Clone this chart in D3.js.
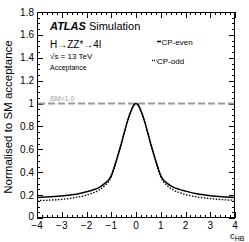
<!DOCTYPE html>
<html><head><meta charset="utf-8">
<script src="https://cdn.jsdelivr.net/npm/d3@7"></script>
<style>html,body{margin:0;padding:0;background:#fff}svg{display:block;font-family:"Liberation Sans",Arial,sans-serif}</style>
</head><body>
<script>
const xCp = [-4,-3.5,-3,-2.5,-2,-1.75,-1.5,-1.25,-1.1,-1,-0.9,-0.8,-0.7,-0.6,-0.5,-0.4,-0.3,-0.2,-0.1,0,0.1,0.2,0.3,0.4,0.5,0.6,0.7,0.8,0.9,1,1.1,1.25,1.5,1.75,2,2.5,3,3.5,4];
const cpEven = [0.18,0.185,0.192,0.205,0.23,0.245,0.265,0.305,0.335,0.37,0.43,0.5,0.57,0.645,0.725,0.805,0.875,0.935,0.983,1.0,0.983,0.935,0.875,0.805,0.725,0.645,0.57,0.5,0.43,0.37,0.335,0.305,0.27,0.25,0.235,0.21,0.195,0.186,0.18];
const cpOdd = [0.152,0.156,0.163,0.177,0.2,0.218,0.242,0.285,0.32,0.358,0.42,0.493,0.565,0.642,0.723,0.804,0.874,0.935,0.983,1.0,0.983,0.935,0.874,0.804,0.723,0.642,0.565,0.493,0.42,0.358,0.32,0.285,0.245,0.222,0.205,0.183,0.17,0.16,0.155];
const yTicks = [0,0.2,0.4,0.6,0.8,1,1.2,1.4,1.6,1.8];
const xTicks = [-4,-3,-2,-1,0,1,2,3,4];
const smValue = 1.0;

const W=249,H=242;
const m={l:37,r:14,t:12,b:24};
const svg=d3.select("body").append("svg").attr("width",W).attr("height",H);
const x=d3.scaleLinear().domain([-4,4]).range([m.l,W-m.r]);
const y=d3.scaleLinear().domain([0,1.8]).range([H-m.b,m.t]);
const x0=m.l,x1=W-m.r,y0=H-m.b,y1=m.t;

// minor ticks
const xMinor=d3.range(-4,4.0001,0.2);
const yMinor=d3.range(0,1.8001,0.05);
const g=svg.append("g").attr("stroke","#000").attr("stroke-width",1);
xMinor.forEach(v=>{const px=Math.round(x(v))+0.5;const maj=Math.abs(v-Math.round(v))<1e-6;const L=maj?6:3;
  g.append("line").attr("x1",px).attr("x2",px).attr("y1",y0).attr("y2",y0-L);
  g.append("line").attr("x1",px).attr("x2",px).attr("y1",y1).attr("y2",y1+L);});
yMinor.forEach(v=>{const py=Math.round(y(v))+0.5;const maj=Math.abs(v*5-Math.round(v*5))<1e-6;const L=maj?6:3;
  g.append("line").attr("x1",x0).attr("x2",x0+L).attr("y1",py).attr("y2",py);
  g.append("line").attr("x1",x1).attr("x2",x1-L).attr("y1",py).attr("y2",py);});
svg.append("rect").attr("x",x0+0.5).attr("y",y1+0.5).attr("width",x1-x0-1).attr("height",y0-y1-1).attr("fill","none").attr("stroke","#000").attr("stroke-width",1);

// tick labels
svg.append("g").selectAll("text").data(yTicks).join("text")
  .attr("x",x0-3).attr("y",d=>d===0?y(d)+1.5:y(d)+3.5).attr("text-anchor","end").attr("font-size",10)
  .text(d=>d3.format("~g")(d));
svg.append("g").selectAll("text").data(xTicks).join("text")
  .attr("x",d=>x(d)).attr("y",y0+10.5).attr("text-anchor","middle").attr("font-size",10)
  .text(d=>d<0?"\u2212"+(-d):String(d));

// SM line
svg.append("line").attr("x1",x0+1).attr("x2",x1-1).attr("y1",y(smValue)).attr("y2",y(smValue))
  .attr("stroke","#999").attr("stroke-width",2).attr("stroke-dasharray","7,3");
svg.append("text").attr("x",50).attr("y",y(smValue)-3).attr("font-size",7).attr("fill","#999").text("SM=1.0");

// curves
const line=d3.line().x((d,i)=>x(xCp[i])).y(d=>y(d)).curve(d3.curveMonotoneX);
svg.append("path").attr("d",line(cpEven)).attr("fill","none").attr("stroke","#000").attr("stroke-width",1.5);
svg.append("path").attr("d",line(cpOdd)).attr("fill","none").attr("stroke","#000").attr("stroke-width",1.3).attr("stroke-dasharray","1.5,1.5");

// labels
const t1=svg.append("text").attr("x",50).attr("y",30).attr("font-size",11);
t1.append("tspan").attr("font-weight","bold").attr("font-style","italic").text("ATLAS");
t1.append("tspan").text(" Simulation");
svg.append("text").attr("x",50).attr("y",48).attr("font-size",10).text("H\u2192ZZ*\u21924l");
svg.append("text").attr("x",50).attr("y",59).attr("font-size",8).text("\u221As = 13 TeV");
svg.append("text").attr("x",50).attr("y",70).attr("font-size",7).text("Acceptance");

// legend
svg.append("line").attr("x1",157).attr("x2",161).attr("y1",41.5).attr("y2",41.5).attr("stroke","#000").attr("stroke-width",1.5);
svg.append("text").attr("x",161.5).attr("y",44.5).attr("font-size",8).text("CP-even");
svg.append("line").attr("x1",152).attr("x2",156.5).attr("y1",60.5).attr("y2",60.5).attr("stroke","#000").attr("stroke-width",1.3).attr("stroke-dasharray","1,1");
svg.append("text").attr("x",157).attr("y",63.5).attr("font-size",8).text("CP-odd");

// axis titles
svg.append("text").attr("transform",`translate(12,${(y0+y1)/2+2}) rotate(-90)`).attr("text-anchor","middle").attr("font-size",11.5).text("Normalised to SM acceptance");
const xt=svg.append("text").attr("x",230).attr("y",239).attr("font-size",9.5);
xt.append("tspan").text("c");
xt.append("tspan").attr("font-size",7).attr("dy",2).text("HB");
</script>
</body></html>
